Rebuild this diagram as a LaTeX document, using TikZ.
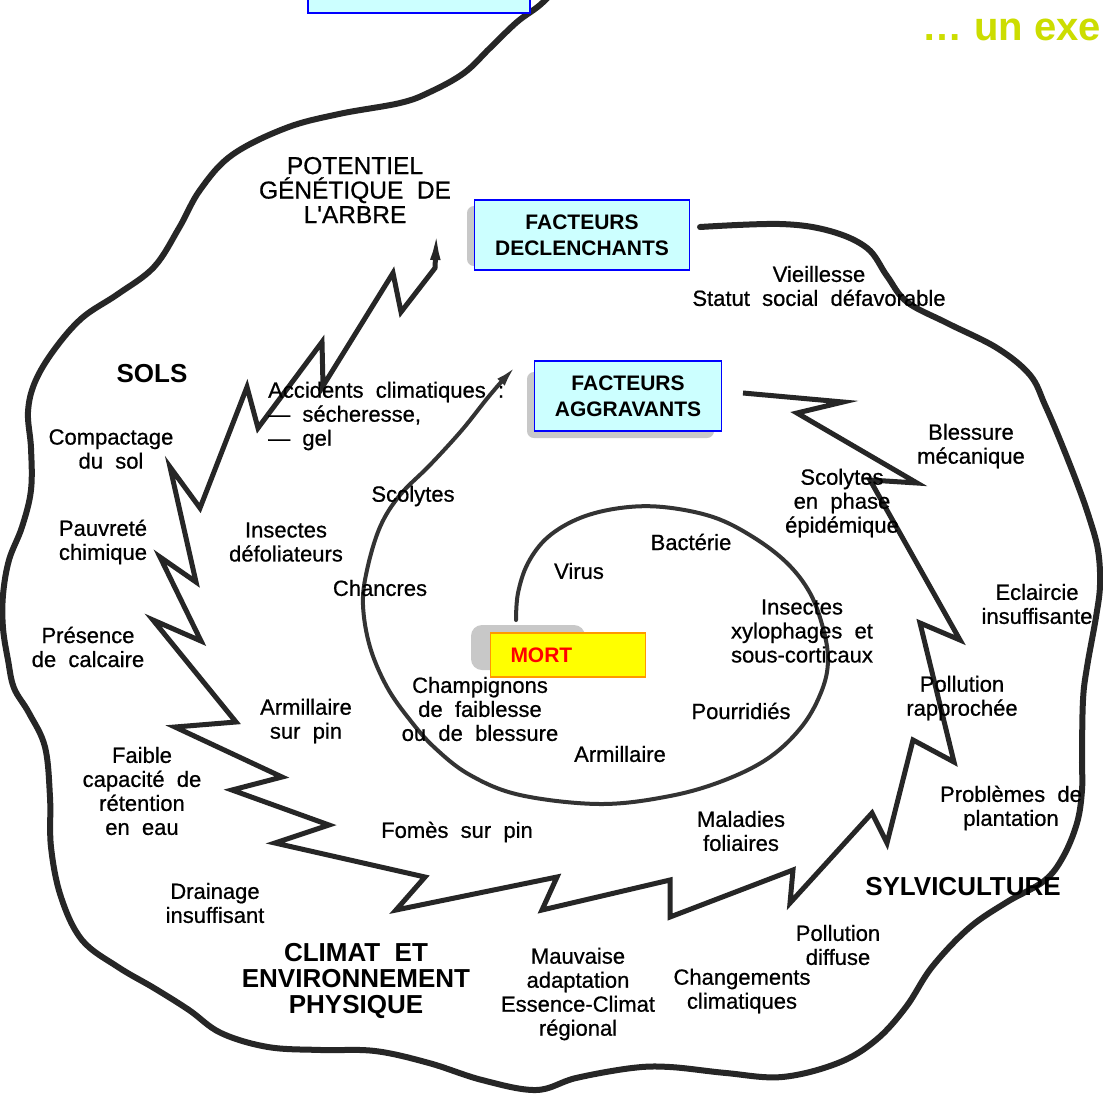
\documentclass[tikz,border=0pt]{standalone}
\usepackage{fontspec}
\setmainfont{Liberation Sans}[WordSpace=2]
\newfontfamily\scanfont{Liberation Sans}[WordSpace=2, FakeBold=0.7]
\newfontfamily\notefont{Liberation Sans}
\usetikzlibrary{arrows.meta}
\definecolor{boxcyan}{RGB}{204,255,255}
\definecolor{boxblue}{RGB}{0,0,255}
\definecolor{mortyellow}{RGB}{255,255,0}
\definecolor{mortorange}{RGB}{255,153,0}
\definecolor{mortred}{RGB}{255,0,0}
\definecolor{notegreen}{RGB}{204,221,0}
\definecolor{shadowgray}{RGB}{200,200,200}

\begin{document}
\begin{tikzpicture}[x=1pt, y=-1pt,
  fbox/.style={draw=boxblue, line width=1.5pt, fill=boxcyan, align=center, inner sep=0pt, font=\bfseries\fontsize{21}{26}\selectfont},
  mortbox/.style={draw=mortorange, line width=1.5pt, fill=mortyellow, text=mortred, align=left, inner xsep=20pt, inner ysep=0pt, text width=115pt, minimum height=44pt, font=\bfseries\fontsize{21}{24}\selectfont},
  lbl/.style={align=center, inner sep=0pt, font=\scanfont\fontsize{22}{24}\selectfont},
  zone/.style={align=center, inner sep=0pt, font=\bfseries\fontsize{26}{26}\selectfont},
  shade/.style={fill=shadowgray, rounded corners=7pt},
  outer/.style={line width=6pt, line cap=round, draw=black!85},
  bolt/.style={line width=5pt, miter limit=12, draw=black!85},
  spiral/.style={line width=4pt, line cap=round, draw=black!80}
]
\useasboundingbox (0,0) rectangle (1103,1096);
\clip (0,0) rectangle (1103,1096);
\fill[white] (0,0) rectangle (1103,1096);

% box shadows
\fill[shade] (467,206) rectangle (600,266);
\fill[shade] (527,372) rectangle (714,438);
\fill[shade, rounded corners=11pt] (471,625) rectangle (585,670);

% ends of the three turns
\coordinate (ostart) at (560,-15);
\coordinate (oend) at (700,227);
\coordinate (zstart) at (437,222);
\coordinate (zend) at (743,393);
\coordinate (cstart) at (516,366);
\coordinate (cend) at (516,620);

% outer turn
\draw[outer] plot[smooth, tension=0.6] coordinates {(ostart) (540,5) (517,22) (490,48) (464,73) (430,92) (400,103) (339,114) (286,128) (232,155) (200,190) (179,228) (154,267) (118,294) (82,318) (54,350) (35,382) (28,412) (31,448) (31,490) (22,527) (9,560) (3,595) (3,628) (8,660) (14,688) (29,713) (45,747) (50,797) (51,847) (61,897) (82,940) (118,967) (154,988) (189,1010) (221,1033) (268,1047) (321,1050) (375,1051) (429,1063) (482,1080) (536,1090) (576,1078) (632,1068) (670,1067) (726,1073) (782,1077) (838,1063) (876,1040) (906,1007) (932,967) (969,928) (1007,902) (1044,881) (1063,857) (1077,823) (1082,790) (1082,757) (1083,700) (1087,667) (1096,617) (1100,585) (1098,550) (1089,517) (1077,483) (1060,440) (1045,405) (1030,375) (997,348) (947,323) (907,302) (887,276) (867,248) (830,231) (780,224) (oend)};

% lightning turn
\draw[bolt, {Latex[length=38pt,width=10pt]}-] (zstart) -- (435,268) -- (401,312) -- (393,273) -- (323,386) -- (322,342) -- (258,428) -- (247,387) -- (200,508) -- (170,467) -- (196,582) -- (160,557) -- (201,641) -- (153,620) -- (236,722) -- (175,727) -- (282,777) -- (232,790) -- (329,825) -- (275,843) -- (425,877) -- (396,910) -- (557,877) -- (542,910) -- (670,880) -- (670,917) -- (793,870) -- (790,903) -- (872,813) -- (887,843) -- (913,740) -- (954,762) -- (920,623) -- (960,640) -- (870,480) -- (917,483) -- (797,413) -- (843,402) -- (zend);

% inner turn
\draw[spiral, {Latex[length=22pt,width=10pt]}-] plot[smooth, tension=0.6] coordinates {(cstart) (490,395) (462,430) (430,465) (400,495) (380,527) (367,570) (363,605) (370,647) (387,687) (410,720) (435,748) (470,775) (520,795) (600,804) (670,796) (725,780) (770,757) (803,725) (822,690) (828,660) (823,628) (810,593) (787,563) (753,537) (713,517) (663,507) (620,508) (580,518) (548,537) (528,563) (518,593) (cend)};

% outer labels
\node[lbl, font=\scanfont\fontsize{24.5}{24.5}\selectfont] (potentiel) at (355,190) {POTENTIEL\\GÉNÉTIQUE DE\\L'ARBRE};
\node[zone] (sols) at (152,374) {SOLS};
\node[lbl] (compactage) at (111,449) {Compactage\\du sol};
\node[lbl] (pauvrete) at (103,542) {Pauvreté\\chimique};
\node[lbl] (calcaire) at (88,647) {Présence\\de calcaire};
\node[lbl] (retention) at (142,791) {Faible\\capacité de\\rétention\\en eau};
\node[lbl] (drainage) at (215,903) {Drainage\\insuffisant};
\node[zone] (climat) at (356,981) {CLIMAT ET\\ENVIRONNEMENT\\PHYSIQUE};
\node[lbl] (adaptation) at (578,994) {Mauvaise\\adaptation\\Essence-Climat\\régional};
\node[lbl] (changements) at (742,991) {Changements\\climatiques};
\node[lbl] (pdiffuse) at (838,945) {Pollution\\diffuse};
\node[zone] (sylvi) at (963,887) {SYLVICULTURE};
\node[lbl] (plantation) at (1011,808) {Problèmes de\\plantation};
\node[lbl] (prapprochee) at (962,698) {Pollution\\rapprochée};
\node[lbl] (eclaircie) at (1037,604) {Eclaircie\\insuffisante};
\node[lbl] (vieillesse) at (819,286) {Vieillesse\\Statut social défavorable};

% lightning labels
\node[lbl, anchor=west, align=left] (accidents) at (268,416) {Accidents climatiques :\\— sécheresse,\\— gel};
\node[lbl] (defoliateurs) at (286,542) {Insectes\\défoliateurs};
\node[lbl] (armpin) at (306,721) {Armillaire\\sur pin};
\node[lbl] (fomes) at (457,832) {Fomès sur pin};
\node[lbl] (foliaires) at (741,831) {Maladies\\foliaires};
\node[lbl] (blessure) at (971,446) {Blessure\\mécanique};
\node[lbl] (epidemique) at (842,503) {Scolytes\\en phase\\épidémique};

% inner labels
\node[lbl] (scolytes) at (413,496) {Scolytes};
\node[lbl] (chancres) at (380,588) {Chancres};
\node[lbl] (champignons) at (480,709) {Champignons\\de faiblesse\\ou de blessure};
\node[lbl] (armillaire) at (620,754) {Armillaire};
\node[lbl] (pourridies) at (741,711) {Pourridiés};
\node[lbl] (xylophages) at (802,631) {Insectes\\xylophages et\\sous-corticaux};
\node[lbl] (bacterie) at (691,542) {Bactérie};
\node[lbl] (virus) at (579,571) {Virus};

% boxes
\node[fbox, minimum width=222pt, minimum height=60pt] (predis) at (419,-17) {};
\node[fbox, minimum width=215pt, minimum height=70pt] (decl) at (582,235) {FACTEURS\\DECLENCHANTS};
\node[fbox, minimum width=187pt, minimum height=70pt] (aggr) at (628,396) {FACTEURS\\AGGRAVANTS};
\node[mortbox] (mort) at (568,655) {MORT};

\node[anchor=base east, inner sep=0pt, text=notegreen, font=\notefont\bfseries\fontsize{40}{40}\selectfont] (exemple) at (1101,40) {… un exe};
\end{tikzpicture}
\end{document}
